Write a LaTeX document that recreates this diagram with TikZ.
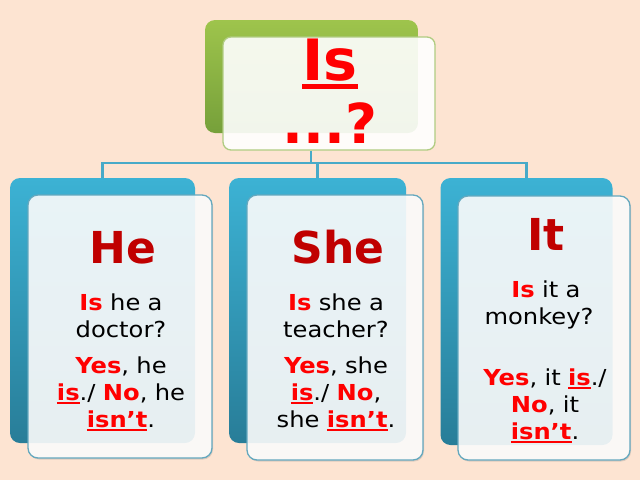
\documentclass[tikz,border=0pt]{standalone}
\usepackage{fontspec}
\setmainfont{DejaVu Sans}
\newfontfamily\bodyfont[FakeStretch=1.1]{DejaVu Sans}
\usetikzlibrary{shadows}
\definecolor{bgpeach}{RGB}{253,228,210}
\definecolor{bluetop}{RGB}{60,178,212}
\definecolor{bluebot}{RGB}{40,125,152}
\definecolor{greentop}{RGB}{158,196,76}
\definecolor{greenbot}{RGB}{118,160,58}
\definecolor{blueedge}{RGB}{100,168,190}
\definecolor{greenedge}{RGB}{176,204,130}
\definecolor{conn}{RGB}{72,170,200}
\definecolor{headred}{RGB}{192,0,0}
\definecolor{brred}{RGB}{255,0,0}
\newcommand{\myul}[1]{\setbox0\hbox{#1}\rlap{\rule[-0.16em]{\wd0}{0.09em}}\box0}
\newcommand{\rb}[1]{\textcolor{brred}{\textbf{#1}}}
\newcommand{\rbu}[1]{\textcolor{brred}{\textbf{\myul{#1}}}}
\tikzset{
  backbox/.style={rectangle, rounded corners=10pt, draw=none, top color=bluetop, bottom color=bluebot, inner sep=0pt},
  greenbox/.style={rectangle, rounded corners=10pt, draw=none, top color=greentop, bottom color=greenbot, inner sep=0pt},
  frontbox/.style={rectangle, rounded corners=10pt, draw=blueedge, line width=1.3pt, fill=white, fill opacity=0.88, draw opacity=1, inner sep=0pt,
    drop shadow={shadow xshift=1pt, shadow yshift=-1.5pt, opacity=0.25}},
  topfront/.style={rectangle, rounded corners=8pt, draw=greenedge, line width=1.3pt, fill=white, fill opacity=0.9, draw opacity=1, inner sep=0pt},
  connector/.style={draw=conn, line width=2.2pt},
  head/.style={text=headred, font=\bfseries\fontsize{44}{50}\selectfont, inner sep=0pt, anchor=base},
  body/.style={font=\bodyfont\fontsize{22}{27}\selectfont, align=center, inner sep=0pt, anchor=north, text width=190pt},
}
\begin{document}
\begin{tikzpicture}[x=1pt,y=-1pt]
\fill[bgpeach] (0,0) rectangle (640,480);
\useasboundingbox (0,0) rectangle (640,480);

% top
\node[greenbox, minimum width=213pt, minimum height=113pt] (topb) at (311.5,76.5) {};
\node[topfront, minimum width=212pt, minimum height=113pt] (topf) at (329,93.5) {};
\node[text=brred, font=\bfseries\fontsize{57}{63}\selectfont, inner sep=0pt, anchor=base] (tis) at (330,80) {\myul{Is}};
\node[text=brred, font=\bfseries\fontsize{55}{63}\selectfont, inner sep=0pt, anchor=base] (tq) at (330,143) {...?};

% back boxes
\node[backbox, minimum width=185pt, minimum height=265pt] (back1) at (102.5,310.5) {};
\node[backbox, minimum width=177pt, minimum height=265pt] (back2) at (317.5,310.5) {};
\node[backbox, minimum width=172pt, minimum height=267pt] (back3) at (526.5,311.5) {};

% connectors
\coordinate (j) at (311,163);
\draw[connector] (topf.south -| j) -- (j);
\draw[connector] (back1.north) |- (j) -| (back3.north);
\draw[connector] (j -| back2.north) -- (back2.north);

% front boxes
\node[frontbox, minimum width=184pt, minimum height=263pt] (front1) at (120,326.5) {};
\node[frontbox, minimum width=176pt, minimum height=265pt] (front2) at (335,327.5) {};
\node[frontbox, minimum width=172pt, minimum height=264pt] (front3) at (544,328) {};

% group 1
\node[head] (h1) at (123,263) {He};
\node[body] (q1) at (121,293.3) {\rb{Is} he a\\doctor?};
\node[body] (a1) at (121,356.3) {\rb{Yes}, he\\\rbu{is}./ \rb{No}, he\\\rbu{isn’t}.};

% group 2
\node[head] (h2) at (338,263) {She};
\node[body] (q2) at (336,293.3) {\rb{Is} she a\\teacher?};
\node[body] (a2) at (336,356.3) {\rb{Yes}, she\\\rbu{is}./ \rb{No},\\she \rbu{isn’t}.};

% group 3
\node[head] (h3) at (546,250) {It};
\node[body] (q3) at (539,280.5) {\hspace*{14pt}\rb{Is} it a\\monkey?};
\node[body] (a3) at (545,368.3) {\rb{Yes}, it \rbu{is}./\\\rb{No}, it\\\rbu{isn’t}.};
\end{tikzpicture}
\end{document}
